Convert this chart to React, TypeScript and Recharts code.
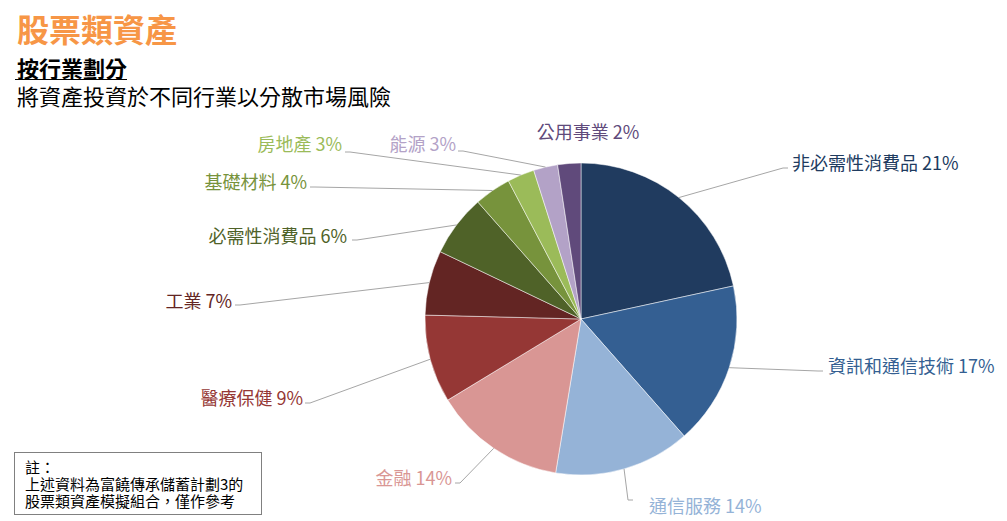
import React from 'react';
import { PieChart, Pie, Cell } from 'recharts';

const CATEGORIES = ['非必需性消費品', '資訊和通信技術', '通信服務', '金融', '醫療保健', '工業', '必需性消費品', '基礎材料', '房地產', '能源', '公用事業'];
const VALUES = [21.6, 16.9, 14.1, 13.7, 9.1, 6.7, 6.4, 3.8, 2.8, 2.5, 2.4];
const PCT_LABELS = ['21%', '17%', '14%', '14%', '9%', '7%', '6%', '4%', '3%', '3%', '2%'];
const COLORS = ['#203B5F', '#345F92', '#95B3D7', '#D99694', '#953735', '#632523', '#4F6228', '#77933C', '#9BBB59', '#B3A2C7', '#604A7B'];

const TITLE = '股票類資產';
const SUBTITLE = '按行業劃分';
const DESCRIPTION = '將資產投資於不同行業以分散市場風險';
const NOTE_LINES = ['註：', '上述資料為富饒傳承儲蓄計劃3的', '股票類資產模擬組合，僅作參考'];

// label layout relative to the pie centre: line end (lx, ly), text anchor (tx, ty), side
const LABEL_LAYOUT = [
  { lx: 202, ly: -151, tx: 211, ty: -157, side: 1, line: true },
  { lx: 237, ly: 52, tx: 247, ty: 46, side: 1, line: true },
  { lx: 47, ly: 181, tx: 68, ty: 186, side: 1, line: true },
  { lx: -121, ly: 164, tx: -129, ty: 158, side: -1, line: true },
  { lx: -271, ly: 84, tx: -278, ty: 78, side: -1, line: true },
  { lx: -341, ly: -14, tx: -349, ty: -19, side: -1, line: true },
  { lx: -224, ly: -79, tx: -234, ty: -84, side: -1, line: true },
  { lx: -266, ly: -132, tx: -274, ty: -138, side: -1, line: true },
  { lx: -231, ly: -167, tx: -239, ty: -176, side: -1, line: true },
  { lx: -118, ly: -168, tx: -125, ty: -176, side: -1, line: true },
  { lx: 7, ly: -188, tx: 7, ty: -188, side: 0, line: false },
];

const data = CATEGORIES.map((name, i) => ({ name, value: VALUES[i], pct: PCT_LABELS[i] }));

const FONT = "'Noto Sans CJK TC', 'Noto Sans', sans-serif";

const renderLabel = (props: any) => {
  const { cx, cy, midAngle, outerRadius, index } = props;
  const RAD = Math.PI / 180;
  const sx = cx + outerRadius * Math.cos(-midAngle * RAD);
  const sy = cy + outerRadius * Math.sin(-midAngle * RAD);
  const lay = LABEL_LAYOUT[index];
  const ex = cx + lay.lx;
  const ey = cy + lay.ly;
  const hx = ex + lay.side * 5;
  const anchor = lay.side > 0 ? 'start' : lay.side < 0 ? 'end' : 'middle';
  return (
    <g key={`lbl-${index}`}>
      {lay.line && (
        <polyline points={`${sx},${sy} ${ex},${ey} ${hx},${ey}`} fill="none" stroke="#A6A6A6" strokeWidth={1} />
      )}
      <text
        x={cx + lay.tx}
        y={cy + lay.ty}
        textAnchor={anchor}
        dominantBaseline="central"
        fill={COLORS[index]}
        fontSize={18}
        fontFamily={FONT}
      >
        {`${CATEGORIES[index]} ${PCT_LABELS[index]}`}
      </text>
    </g>
  );
};

export default function App() {
  return (
    <div style={{ position: 'absolute', left: 0, top: 0, width: 1007, height: 521, background: '#fff', fontFamily: FONT, overflow: 'hidden' }}>
      <PieChart width={1007} height={521} margin={{ top: 0, right: 0, bottom: 0, left: 0 }} style={{ position: 'absolute', left: 0, top: 0 }}>
        <Pie
          data={data}
          dataKey="value"
          nameKey="name"
          cx={581}
          cy={319}
          outerRadius={156}
          startAngle={90}
          endAngle={-270}
          stroke="#fff"
          strokeWidth={0.5}
          isAnimationActive={false}
          label={renderLabel}
          labelLine={false}
        >
          {data.map((d, i) => (
            <Cell key={d.name} fill={COLORS[i]} />
          ))}
        </Pie>
      </PieChart>
      <div style={{ position: 'absolute', left: 17, top: 8, fontSize: 32, lineHeight: '40px', fontWeight: 700, color: '#F79646', whiteSpace: 'nowrap' }}>{TITLE}</div>
      <div style={{ position: 'absolute', left: 15, top: 56, fontSize: 22, lineHeight: '23px', fontWeight: 700, color: '#000', borderBottom: '1px solid #000', paddingLeft: 2, whiteSpace: 'nowrap' }}>{SUBTITLE}</div>
      <div style={{ position: 'absolute', left: 17, top: 83, fontSize: 22, lineHeight: '24px', color: '#000', whiteSpace: 'nowrap' }}>{DESCRIPTION}</div>
      <div style={{ position: 'absolute', left: 14, top: 452, width: 248, height: 63, border: '1px solid #808080', boxSizing: 'border-box', padding: '5px 0 0 10px' }}>
        {NOTE_LINES.map((l) => (
          <div key={l} style={{ fontSize: 15, lineHeight: '17px', color: '#000', whiteSpace: 'nowrap' }}>{l}</div>
        ))}
      </div>
    </div>
  );
}
